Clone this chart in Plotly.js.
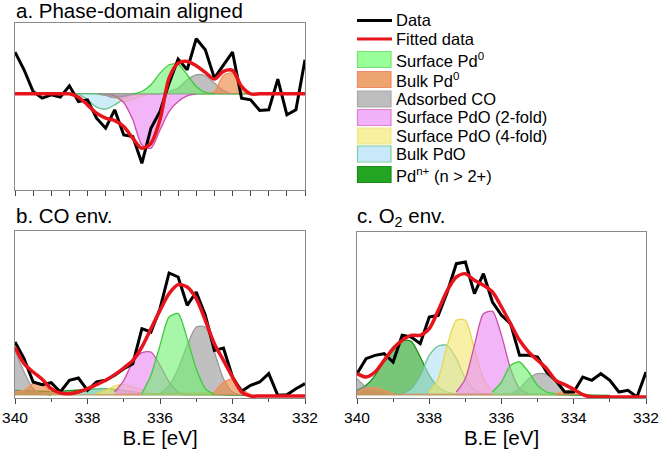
<!DOCTYPE html>
<html>
<head>
<meta charset="utf-8">
<script src="https://cdn.plot.ly/plotly-3.0.1.min.js"></script>
<style>html,body{margin:0;padding:0;background:#fff}#chart{width:661px;height:451px}</style>
</head>
<body>
<div id="chart"></div>
<script>
// Binding energy grid (eV)
const be = [340, 339.75, 339.5, 339.25, 339, 338.75, 338.5, 338.25, 338, 337.75, 337.5, 337.25, 337, 336.75, 336.5, 336.25, 336, 335.75, 335.5, 335.25, 335, 334.75, 334.5, 334.25, 334, 333.75, 333.5, 333.25, 333, 332.75, 332.5, 332.25, 332];

// ---- Panel a: phase-domain aligned ----
const dataA = [1.25, 0.72, 0.07, -0.13, -0.03, -0.10, 0.24, -0.23, -0.18, -0.73, -1.03, -0.48, -1.23, -1.28, -2.08, -1.03, -0.53, 0.32, 1.04, 0.72, 1.65, 1.32, 0.47, 0.87, 1.25, -0.13, -0.18, -0.50, -0.48, 0.44, -0.63, -0.48, 1.02];
const fitA = [0, 0, 0, 0, 0, 0, 0, -0.10, -0.33, -0.58, -0.73, -0.80, -0.98, -1.33, -1.63, -1.48, -0.78, 0.47, 0.92, 0.97, 0.84, 0.64, 0.44, 0.67, 0.70, 0.22, 0, 0, 0, 0, 0, 0, 0];
const pdnA_x = [338.75, 336, 333.5];
const pdnA_y = [0, 0, 0];
const bulkPdOA_x = [338.5, 338.25, 338, 337.75, 337.5, 337.25, 337, 336.75, 336.5];
const bulkPdOA_y = [0, -0.02, -0.18, -0.40, -0.46, -0.33, -0.16, -0.04, 0];
const fourFoldA_x = [337.5, 337.25, 337, 336.75, 336.5, 336.25];
const fourFoldA_y = [0, -0.10, -0.23, -0.16, -0.06, 0];
const twoFoldA_x = [337.5, 337.25, 337, 336.75, 336.5, 336.25, 336, 335.75, 335.5, 335.25, 335];
const twoFoldA_y = [0, -0.06, -0.26, -0.78, -1.53, -1.63, -1.08, -0.53, -0.23, -0.06, 0];
const adsCOA_x = [337.75, 337.5, 337.25, 337, 336.75, 336.5, 336.25, 336, 335.75, 335.5, 335.25, 335, 334.75, 334.5, 334.25, 334];
const adsCOA_y = [0, -0.05, -0.12, -0.08, -0.02, 0, 0, 0, 0.07, 0.17, 0.42, 0.57, 0.54, 0.32, 0.10, 0];
const bulkPd0A_x = [334.75, 334.5, 334.25, 334, 333.75, 333.5];
const bulkPd0A_y = [0, 0.07, 0.55, 0.62, 0.22, 0];
const surfPd0A_x = [336.75, 336.5, 336.25, 336, 335.75, 335.5, 335.25, 335, 334.75, 334.5];
const surfPd0A_y = [0, 0.07, 0.27, 0.62, 0.87, 0.89, 0.57, 0.22, 0.04, 0];

// ---- Panel b: CO environment ----
const dataB = [1.60, 1.10, 0.40, 0.32, 0.38, 0.10, 0.45, 0.52, 0.15, 0.40, 0.45, 0.60, 0.80, 0.95, 2.00, 1.90, 2.60, 3.67, 3.55, 2.70, 3.10, 2.40, 1.35, 1.42, 0.55, 0.12, 0.30, 0.40, 0.65, 0.00, 0.02, 0.20, 0.35];
const fitB = [1.45, 0.95, 0.70, 0.48, 0.20, 0.07, 0.05, 0.10, 0.20, 0.32, 0.45, 0.62, 0.82, 1.05, 1.45, 2.00, 2.55, 3.05, 3.32, 3.25, 2.90, 2.25, 1.55, 1.05, 0.55, 0.10, -0.02, -0.02, -0.02, -0.02, -0.02, -0.02, -0.02];
const pdnB_x = [340, 339.5, 339, 338.5, 338, 337.5, 337, 336.5, 336, 335.5, 335, 334.5, 334, 333.5];
const pdnB_y = [0.15, 0.13, 0.12, 0.14, 0.18, 0.20, 0.15, 0.07, 0.04, 0.03, 0.02, 0.02, 0.01, 0];
const bulkPdOB_x = [338.5, 338.25, 338, 337.75, 337.5, 337.25, 337];
const bulkPdOB_y = [0.05, 0.10, 0.15, 0.20, 0.20, 0.13, 0.05];
const fourFoldB_x = [337.75, 337.5, 337.25, 337, 336.75, 336.5, 336.25];
const fourFoldB_y = [0.05, 0.15, 0.28, 0.32, 0.25, 0.15, 0.05];
const twoFoldB_x = [337.25, 337, 336.75, 336.5, 336.25, 336, 335.75, 335.5, 335.25];
const twoFoldB_y = [0.10, 0.45, 1.00, 1.28, 1.30, 0.90, 0.40, 0.10, 0.02];
const adsCOB_x = [340, 339.75, 339.5, 339.25, 339, null, 336, 335.75, 335.5, 335.25, 335, 334.75, 334.5, 334.25, 334, 333.75];
const adsCOB_y = [1.35, 0.70, 0.20, 0.05, 0, null, 0.05, 0.30, 0.80, 1.50, 2.05, 2.05, 1.30, 0.50, 0.10, 0];
const bulkPd0B_x = [340, 339.75, 339.5, 339.25, 339, 338.75, null, 334.5, 334.25, 334, 333.75, 333.5];
const bulkPd0B_y = [0.10, 0.15, 0.35, 0.32, 0.10, 0.02, null, 0.10, 0.40, 0.48, 0.20, 0.02];
const surfPd0B_x = [336.5, 336.25, 336, 335.75, 335.5, 335.25, 335, 334.75, 334.5];
const surfPd0B_y = [0.05, 0.60, 1.50, 2.35, 2.45, 1.70, 0.80, 0.20, 0.02];

// ---- Panel c: O2 environment ----
const dataC = [0.65, 1.10, 1.20, 1.25, 1.00, 1.80, 1.75, 1.55, 2.35, 2.40, 3.10, 3.95, 4.00, 3.05, 3.65, 2.80, 2.40, 2.15, 1.20, 1.20, 1.15, 0.70, 0.45, 0.10, 0.10, 0.55, 0.45, 0.65, 0.45, 0.10, 0.15, -0.05, 0.70];
const fitC = [0.65, 0.55, 0.70, 1.05, 1.40, 1.65, 1.80, 1.80, 2.00, 2.55, 3.15, 3.55, 3.65, 3.45, 3.30, 3.10, 2.65, 2.15, 1.65, 1.30, 1.05, 0.80, 0.45, 0.32, 0.18, 0.02, -0.05, -0.05, -0.05, -0.05, -0.05, -0.05, -0.05];
const pdnC_x = [340, 339.75, 339.5, 339.25, 339, 338.75, 338.5, 338.25, 338, 337.75, 337.5, 337.25, 337, 336, 335, 334, 333];
const pdnC_y = [0.15, 0.30, 0.60, 1.05, 1.45, 1.65, 1.62, 1.15, 0.60, 0.25, 0.10, 0.05, 0.05, 0.04, 0.03, 0.01, 0];
const bulkPdOC_x = [338.75, 338.5, 338.25, 338, 337.75, 337.5, 337.25, 337, 336.75, 336.5];
const bulkPdOC_y = [0.05, 0.20, 0.60, 1.20, 1.48, 1.50, 1.10, 0.50, 0.15, 0.05];
const fourFoldC_x = [338, 337.75, 337.5, 337.25, 337, 336.75, 336.5, 336.25, 336];
const fourFoldC_y = [0.10, 0.50, 1.50, 2.25, 2.25, 1.40, 0.50, 0.12, 0.05];
const twoFoldC_x = [337.25, 337, 336.75, 336.5, 336.25, 336, 335.75, 335.5, 335.25];
const twoFoldC_y = [0.10, 0.50, 1.50, 2.45, 2.52, 1.80, 0.80, 0.20, 0.05];
const adsCOC_x = [340, 339.75, 339.5, 339.25, null, 335.75, 335.5, 335.25, 335, 334.75, 334.5, 334.25, 334];
const adsCOC_y = [0.50, 0.25, 0.10, 0.05, null, 0.05, 0.20, 0.50, 0.65, 0.62, 0.40, 0.10, 0.02];
const bulkPd0C_x = [340, 339.75, 339.5, 339.25, 339, null, 334.5, 334.25, 334, 333.75];
const bulkPd0C_y = [0.10, 0.20, 0.23, 0.15, 0.05, null, 0.05, 0.12, 0.17, 0.05];
const surfPd0C_x = [336.25, 336, 335.75, 335.5, 335.25, 335, 334.75, 334.5];
const surfPd0C_y = [0.10, 0.40, 0.90, 1.00, 0.70, 0.30, 0.10, 0.05];

// Legend labels
const legendLabels = ['Data', 'Fitted data', 'Surface Pd<sup>0</sup>', 'Bulk Pd<sup>0</sup>', 'Adsorbed CO', 'Surface PdO (2-fold)', 'Surface PdO (4-fold)', 'Bulk PdO', 'Pd<sup>n+</sup> (n > 2+)'];
const panelTitles = ['a. Phase-domain aligned', 'b. CO env.', 'c. O<sub>2</sub> env.'];
const xTitle = 'B.E [eV]';

// styles
const comp = {
  surf: {fill: 'rgba(110,240,110,0.6)', line: '#3ccc3c', sw: '#99ff99', sb: '#77e077'},
  bulk0: {fill: 'rgba(235,140,70,0.65)', line: '#f39060', sw: '#eea46e', sb: '#f08a6a'},
  ads: {fill: 'rgba(150,150,150,0.6)', line: '#9a9a9a', sw: '#bdbdbd', sb: '#a8a8a8'},
  two: {fill: 'rgba(235,150,245,0.7)', line: '#cc4fa6', sw: '#f2b2fa', sb: '#e080c8'},
  four: {fill: 'rgba(245,230,110,0.6)', line: '#e8d84a', sw: '#f7ee9e', sb: '#f0e68a'},
  bulkO: {fill: 'rgba(175,225,245,0.6)', line: '#6cc08c', sw: '#c8e9f9', sb: '#7fcf9f'},
  pdn: {fill: 'rgba(30,160,30,0.6)', line: '#1a901a', sw: '#22a522', sb: '#1a8a1a'}
};

function area(x, y, c, xa, ya) {
  return {x: x, y: y, xaxis: xa, yaxis: ya, type: 'scatter', mode: 'lines', fill: 'tozeroy',
    fillcolor: c.fill, line: {color: c.line, width: 1.3, shape: 'spline', smoothing: 0.7},
    connectgaps: false, showlegend: false, hoverinfo: 'skip'};
}
function curve(x, y, color, w, xa, ya, shape) {
  return {x: x, y: y, xaxis: xa, yaxis: ya, type: 'scatter', mode: 'lines',
    line: {color: color, width: w, shape: shape || 'linear', smoothing: 0.8}, showlegend: false};
}

const traces = [
  area(pdnA_x, pdnA_y, comp.pdn, 'x', 'y'),
  area(bulkPdOA_x, bulkPdOA_y, comp.bulkO, 'x', 'y'),
  area(fourFoldA_x, fourFoldA_y, comp.four, 'x', 'y'),
  area(twoFoldA_x, twoFoldA_y, comp.two, 'x', 'y'),
  area(adsCOA_x, adsCOA_y, comp.ads, 'x', 'y'),
  area(bulkPd0A_x, bulkPd0A_y, comp.bulk0, 'x', 'y'),
  area(surfPd0A_x, surfPd0A_y, comp.surf, 'x', 'y'),
  curve(be, dataA, '#000', 3, 'x', 'y'),
  curve(be, fitA, '#e8141c', 3.5, 'x', 'y', 'spline'),

  area(pdnB_x, pdnB_y, comp.pdn, 'x2', 'y2'),
  area(bulkPdOB_x, bulkPdOB_y, comp.bulkO, 'x2', 'y2'),
  area(fourFoldB_x, fourFoldB_y, comp.four, 'x2', 'y2'),
  area(twoFoldB_x, twoFoldB_y, comp.two, 'x2', 'y2'),
  area(adsCOB_x, adsCOB_y, comp.ads, 'x2', 'y2'),
  area(bulkPd0B_x, bulkPd0B_y, comp.bulk0, 'x2', 'y2'),
  area(surfPd0B_x, surfPd0B_y, comp.surf, 'x2', 'y2'),
  curve(be, dataB, '#000', 3, 'x2', 'y2'),
  curve(be, fitB, '#e8141c', 3.5, 'x2', 'y2', 'spline'),

  area(pdnC_x, pdnC_y, comp.pdn, 'x3', 'y3'),
  area(bulkPdOC_x, bulkPdOC_y, comp.bulkO, 'x3', 'y3'),
  area(fourFoldC_x, fourFoldC_y, comp.four, 'x3', 'y3'),
  area(twoFoldC_x, twoFoldC_y, comp.two, 'x3', 'y3'),
  area(adsCOC_x, adsCOC_y, comp.ads, 'x3', 'y3'),
  area(bulkPd0C_x, bulkPd0C_y, comp.bulk0, 'x3', 'y3'),
  area(surfPd0C_x, surfPd0C_y, comp.surf, 'x3', 'y3'),
  curve(be, dataC, '#000', 3, 'x3', 'y3'),
  curve(be, fitC, '#e8141c', 3.5, 'x3', 'y3', 'spline')
];

const W = 661, H = 451;
const px = v => v / W, py = v => 1 - v / H;
const FONT = 'Arial, "Liberation Sans", sans-serif';

const frameY = {showticklabels: false, ticks: '', showline: true, mirror: true, linecolor: '#8a8a8a', linewidth: 1, showgrid: false, zeroline: false, fixedrange: true};
function xBottom(domain, anchor) {
  return {domain: domain, anchor: anchor, range: [340, 332], tick0: 340, dtick: 2, ticks: 'outside', ticklen: 5, tickcolor: '#444', tickwidth: 1,
    minor: {dtick: 1, ticks: 'outside', ticklen: 3, tickcolor: '#444', showgrid: false},
    tickfont: {family: FONT, size: 15.5, color: '#000'}, showline: true, mirror: true, linecolor: '#8a8a8a', showgrid: false, zeroline: false,
    title: {text: xTitle, font: {family: FONT, size: 20.5, color: '#000'}, standoff: 4}};
}

const layout = {
  width: W, height: H, margin: {l: 0, r: 0, t: 0, b: 0},
  paper_bgcolor: '#fff', plot_bgcolor: '#fff', showlegend: false,
  font: {family: FONT, color: '#000'},
  xaxis: {domain: [px(15), px(305)], anchor: 'y', range: [340, 332], dtick: 0.5, tick0: 340, ticks: 'outside', ticklen: 5, tickcolor: '#444',
    showticklabels: false, showline: true, mirror: true, linecolor: '#8a8a8a', showgrid: false, zeroline: false},
  yaxis: Object.assign({domain: [py(190), py(23)], anchor: 'x', range: [-2.88, 2.12]}, frameY),
  xaxis2: xBottom([px(15), px(305)], 'y2'),
  yaxis2: Object.assign({domain: [py(398), py(231)], anchor: 'x2', range: [-0.08, 4.93]}, frameY),
  xaxis3: xBottom([px(357), px(646)], 'y3'),
  yaxis3: Object.assign({domain: [py(398), py(232)], anchor: 'x3', range: [-0.08, 4.90]}, frameY),
  shapes: [], annotations: []
};

// panel titles
const titlePos = [[14, 10], [14, 215], [355, 217]];
panelTitles.forEach((t, i) => {
  layout.annotations.push({text: t, xref: 'paper', yref: 'paper', x: px(titlePos[i][0]), y: py(titlePos[i][1]),
    xanchor: 'left', yanchor: 'middle', showarrow: false, font: {family: FONT, size: 20.5, color: '#000'}});
});

// manual legend
const legY = [20.5, 39, 59.5, 79.5, 99, 117.5, 136, 154, 174.5];
const legSw = [null, null, comp.surf, comp.bulk0, comp.ads, comp.two, comp.four, comp.bulkO, comp.pdn];
legendLabels.forEach((lab, i) => {
  const y = legY[i];
  if (i === 0 || i === 1) {
    layout.shapes.push({type: 'line', xref: 'paper', yref: 'paper', x0: px(357), x1: px(392), y0: py(y), y1: py(y),
      line: {color: i === 0 ? '#000' : '#e8141c', width: 3}});
  } else {
    const c = legSw[i];
    layout.shapes.push({type: 'rect', xref: 'paper', yref: 'paper', x0: px(357.5), x1: px(391), y0: py(y - 8), y1: py(y + 8),
      fillcolor: c.sw, line: {color: c.sb, width: 1.2}});
  }
  layout.annotations.push({text: lab, xref: 'paper', yref: 'paper', x: px(394), y: py(y), xanchor: 'left', yanchor: 'middle',
    showarrow: false, font: {family: FONT, size: 16.5, color: '#000'}});
});

Plotly.newPlot('chart', traces, layout, {staticPlot: true, displayModeBar: false});
</script>
</body>
</html>
